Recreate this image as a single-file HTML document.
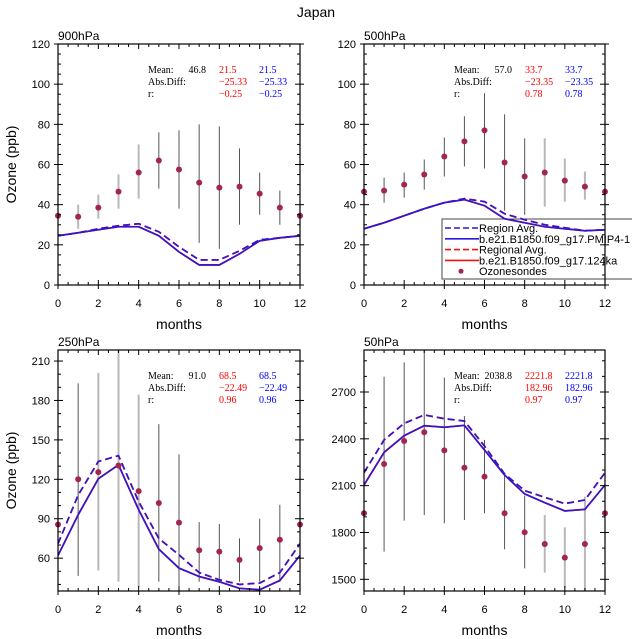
<!DOCTYPE html>
<html><head><meta charset="utf-8"><style>
body{margin:0;background:#fff;}
svg{display:block;font-family:"Liberation Sans",sans-serif;}
.st{font-family:"Liberation Serif",serif;font-size:10px;}
</style></head><body>
<svg id="chart" width="632" height="639" viewBox="0 0 632 639">
<text x="316" y="17" text-anchor="middle" font-size="14">Japan</text>
</svg>
<script>
const months = [0,1,2,3,4,5,6,7,8,9,10,11,12];
// 900hPa
const obs900 = [34.5,34,38.5,46.5,56,62,57.5,51,48.5,49,45.5,38.5,34.5];
const lo900 = [null,28,33,38,43,48,38,21,18,30,35,30,null];
const hi900 = [null,40,45,55,70,76,77,80,79,68,56,47,null];
const solid900 = [24.5,26,27.5,29,29,24.5,16.5,10,10,15.5,22,23.5,24.5];
const dash900 = [24.5,26,28,29.5,30.5,26.5,19,12.5,12.5,17,22.5,23.5,24.5];
const stats900 = ["46.8","21.5","-25.33","-0.25"];
// 500hPa
const obs500 = [46.5,47,50,55,64,71.5,77,61,54,56,52,49,46.5];
const lo500 = [null,41,43.5,47.5,54,59,58,37,35,39,41.5,42.5,null];
const hi500 = [null,53.5,56,62.5,73.5,84,95.5,85,73,73,63,56.5,null];
const solid500 = [28,31,34.5,38,41,42.5,39.5,33,31,29,28,27,27.5];
const dash500 = [28,31,34.5,38,41,43,41.5,35.5,32.5,30,28.5,27,27.5];
const stats500 = ["57.0","33.7","-23.35","0.78"];
// 250hPa
const obs250 = [85.6,120,125.5,130.5,111,102,87,66,65,58.7,67.6,74,85.6];
const lo250 = [null,46.5,50.6,42,38,42,35,42,42,42,42,42,null];
const hi250 = [null,193,201,230,184.4,162,139,87.4,86,75,90,100.6,null];
const solid250 = [62,93,120.4,131,96.8,66.8,52.4,46,42,37,36,43,62];
const dash250 = [71,108,133.6,138,103,75,62.5,49,43.5,40,41,49,71];
const stats250 = ["91.0","68.5","-22.49","0.96"];
// 50hPa
const obs50 = [1923,2239,2386,2442,2326,2215,2158,1923,1801,1726,1639,1726,1923];
const lo50 = [null,1677,1876,1912,1859,1880,1923,1692,1570,1543,1442,1420,null];
const hi50 = [null,2798,2890,3000,2792,2546,2393,2168,2036,1912,1833,2030,null];
const solid50 = [2104,2313,2420,2484,2474,2486,2328,2168,2047,1991,1938,1948,2104];
const dash50 = [2183,2393,2499,2553,2529,2514,2354,2175,2068,2025,1985,2008,2183];
const stats50 = ["2038.8","2221.8","182.96","0.97"];

const NS="http://www.w3.org/2000/svg";
const svg=document.getElementById('chart');
function mk(tag,attrs,parent){const e=document.createElementNS(NS,tag);for(const k in attrs)e.setAttribute(k,attrs[k]);(parent||svg).appendChild(e);return e;}

const panels=[
 {id:'900',label:'900hPa',x0:58,x1:300,y0:44,y1:285,ymin:0,ymax:120,major:20,minor:5,yticks:[0,20,40,60,80,100,120],obs:obs900,lo:lo900,hi:hi900,solid:solid900,dash:dash900,stats:stats900,light:[1,2,3,4],ylab:true},
 {id:'500',label:'500hPa',x0:364,x1:605,y0:44,y1:285,ymin:0,ymax:120,major:20,minor:5,yticks:[0,20,40,60,80,100,120],obs:obs500,lo:lo500,hi:hi500,solid:solid500,dash:dash500,stats:stats500,light:[9,10,11],ylab:false},
 {id:'250',label:'250hPa',x0:58,x1:300,y0:350,y1:591,ymin:35,ymax:218.4,major:30,minor:10,yticks:[60,90,120,150,180,210],obs:obs250,lo:lo250,hi:hi250,solid:solid250,dash:dash250,stats:stats250,light:[2,3,4],ylab:true},
 {id:'50',label:'50hPa',x0:364,x1:605,y0:350,y1:591,ymin:1425,ymax:2969,major:300,minor:100,yticks:[1500,1800,2100,2400,2700],obs:obs50,lo:lo50,hi:hi50,solid:solid50,dash:dash50,stats:stats50,light:[9,10,11],ylab:false}
];

// legend (drawn first so plot lines appear over it)
const lg=mk('g',{});


mk('rect',{x:442,y:219,width:200,height:60,fill:'none',stroke:'#444','stroke-width':1},lg);
const entries=[['Region Avg.','#2a18d8','6,3'],['b.e21.B1850.f09_g17.PMIP4-1','#2a18d8',''],['Regional Avg.','#ee1111','6,3'],['b.e21.B1850.f09_g17.124ka','#ee1111',''],['Ozonesondes',null,'']];
entries.forEach((e,i)=>{
 const y=228+i*10.8;
 if(e[1]){const l=mk('line',{x1:445,x2:479,y1:y,y2:y,stroke:e[1],'stroke-width':1.6},lg);if(e[2])l.setAttribute('stroke-dasharray',e[2]);}
 else mk('circle',{cx:461,cy:y,r:2.5,fill:'#a3264f'},lg);
 const t=mk('text',{x:479,y:y+4,'font-size':11},lg);t.textContent=e[0];
 
 
});

panels.forEach(p=>{
 const g=mk('g',{});
 
 
 const sx=v=>p.x0+(v-0)/12*(p.x1-p.x0);
 const sy=v=>p.y1-(v-p.ymin)/(p.ymax-p.ymin)*(p.y1-p.y0);
 const clip=mk('clipPath',{id:'c'+p.id},g);
 mk('rect',{x:p.x0,y:p.y0,width:p.x1-p.x0,height:p.y1-p.y0},clip);
 const plot=mk('g',{'clip-path':'url(#c'+p.id+')'},g);
 months.forEach((m,i)=>{
  if(p.lo[i]==null)return;
  const light=p.light.indexOf(i)>=0;
  const b=mk('line',{x1:sx(m),x2:sx(m),y1:sy(p.lo[i]),y2:sy(p.hi[i]),stroke:light?'#b8b8b8':'#555','stroke-width':light?2:1},plot);
  
  
 });
 const pts=arr=>arr.map((v,i)=>sx(months[i])+','+sy(v)).join(' ');
 const l1=mk('polyline',{points:pts(p.dash),fill:'none',stroke:'#ee1111','stroke-width':1.8,'stroke-dasharray':'7,4'},plot);
 
 
 const l2=mk('polyline',{points:pts(p.solid),fill:'none',stroke:'#ee1111','stroke-width':1.8},plot);
 
 
 const l3=mk('polyline',{points:pts(p.dash),fill:'none',stroke:'#2a18d8','stroke-width':1.6,'stroke-dasharray':'7,4'},plot);
 
 
 const l4=mk('polyline',{points:pts(p.solid),fill:'none',stroke:'#2a18d8','stroke-width':1.6},plot);
 
 
 months.forEach((m,i)=>{
  const c=mk('circle',{cx:sx(m),cy:sy(p.obs[i]),r:3,fill:'#a3264f'},g);
  
  
 });
 const fr=mk('rect',{x:p.x0,y:p.y0,width:p.x1-p.x0,height:p.y1-p.y0,fill:'none',stroke:'#000','stroke-width':1.2},g);
 
 
 for(let v=0;v<=12;v+=0.5){
  const x=sx(v),maj=(v%2===0),len=maj?5:3;
  mk('line',{x1:x,x2:x,y1:p.y1,y2:p.y1-len,stroke:'#000'},g);
  mk('line',{x1:x,x2:x,y1:p.y0,y2:p.y0+len,stroke:'#000'},g);
  if(maj){mk('line',{x1:x,x2:x,y1:p.y1,y2:p.y1+4,stroke:'#000'},g);
   const t=mk('text',{x:x,y:p.y1+22,'text-anchor':'middle','font-size':11},g);t.textContent=v;
   }
 }
 const start=Math.ceil(p.ymin/p.minor)*p.minor;
 for(let v=start;v<=p.ymax;v+=p.minor){
  const y=sy(v),maj=(Math.abs(v%p.major)<1e-6),len=maj?5:3;
  mk('line',{x1:p.x0,x2:p.x0+len,y1:y,y2:y,stroke:'#000'},g);
  mk('line',{x1:p.x1,x2:p.x1-len,y1:y,y2:y,stroke:'#000'},g);
  if(maj){mk('line',{x1:p.x0,x2:p.x0-4,y1:y,y2:y,stroke:'#000'},g);mk('line',{x1:p.x1,x2:p.x1+4,y1:y,y2:y,stroke:'#000'},g);}
 }
 p.yticks.forEach(v=>{
  const t=mk('text',{x:p.x0-8,y:sy(v)+4,'text-anchor':'end','font-size':11},g);t.textContent=v;
  
 });
 const xl=mk('text',{x:(p.x0+p.x1)/2,y:p.y1+44,'text-anchor':'middle','font-size':14},g);xl.textContent='months';
 
 if(p.ylab){const yl=mk('text',{x:0,y:0,'text-anchor':'middle','font-size':14,transform:'translate(16,'+((p.y0+p.y1)/2)+') rotate(-90)'},g);yl.textContent='Ozone (ppb)';
  }
 const pl=mk('text',{x:p.x0,y:p.y0-4,'font-size':12},g);pl.textContent=p.label;
 
 const bx=p.x0+90,by=p.y0+29;
 const st=(x,y,txt,col,anchor)=>{const t=mk('text',{x:x,y:y,fill:col,'text-anchor':anchor||'start',class:'st'},g);t.textContent=txt;};
 st(bx,by,'Mean:','#000');st(bx+58,by,p.stats[0],'#000','end');
 st(bx,by+12,'Abs.Diff:','#000');st(bx,by+24,'r:','#000');
 const dv=p.stats[2].replace('-','\u2212'),rv=p.stats[3].replace('-','\u2212');
 [[bx+71,'#ff0000'],[bx+111,'#0000ff']].forEach(([x,c])=>{st(x,by,p.stats[1],c);st(x,by+12,dv,c);st(x,by+24,rv,c);});
});
</script>
</body></html>
